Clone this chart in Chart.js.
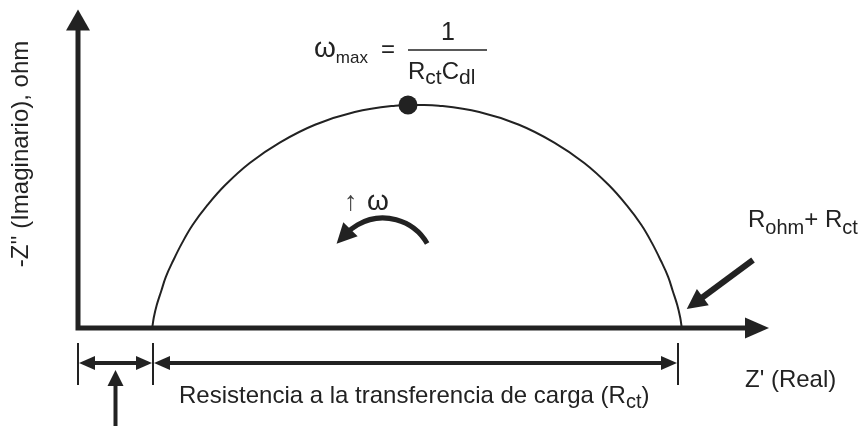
<!DOCTYPE html>
<html>
<head>
<meta charset="utf-8">
<script src="https://cdn.jsdelivr.net/npm/chart.js@4"></script>
<style>
  html, body { margin: 0; padding: 0; background: #fff; }
  #wrap { width: 866px; height: 426px; position: relative; }
</style>
</head>
<body>
<div id="wrap"><canvas id="nyquist"></canvas></div>
<script>
// Nyquist arc: Z' (real) and -Z'' (imaginary), in units of R_ohm
const arcRe = [0.99, 1.01, 1.05, 1.11, 1.17, 1.27, 1.39, 1.53, 1.72, 1.96, 2.29, 2.69, 3.16, 3.69, 4.23, 4.52,
               4.81, 5.35, 5.88, 6.35, 6.75, 7.08, 7.32, 7.51, 7.65, 7.77, 7.87, 7.93, 7.99, 8.03, 8.05];
const arcIm = [0, 0.16, 0.36, 0.58, 0.80, 1.06, 1.34, 1.62, 1.92, 2.24, 2.59, 2.91, 3.19, 3.39, 3.49, 3.50,
               3.49, 3.39, 3.19, 2.91, 2.59, 2.24, 1.92, 1.62, 1.34, 1.06, 0.80, 0.58, 0.36, 0.16, 0];

// point of maximum -Z'' (omega_max)
const peakRe = [4.40];
const peakIm = [3.50];

// dimension marks on the real axis: origin, R_ohm, R_ohm + R_ct
const dimTicks = [0, 1.0, 8.0];

const INK = '#222';
const FONT = "'Liberation Sans', Arial, sans-serif";

function arrowHead(ctx, tx, ty, ang, len, half) {
  ctx.beginPath();
  ctx.moveTo(tx, ty);
  ctx.lineTo(tx - len * Math.cos(ang) + half * Math.sin(ang), ty - len * Math.sin(ang) - half * Math.cos(ang));
  ctx.lineTo(tx - len * Math.cos(ang) - half * Math.sin(ang), ty - len * Math.sin(ang) + half * Math.cos(ang));
  ctx.closePath();
  ctx.fill();
}

// text with sub-runs: [{t, size, dy}]
function runs(ctx, x, y, parts) {
  let cx = x;
  parts.forEach(p => {
    ctx.font = p.size + 'px ' + FONT;
    ctx.fillText(p.t, cx, y + (p.dy || 0));
    cx += ctx.measureText(p.t).width;
  });
}

const decor = {
  id: 'decor',
  beforeDatasetsDraw(chart) {
    const { ctx, chartArea: a, scales: { x, y } } = chart;
    const x0 = x.getPixelForValue(0), y0 = y.getPixelForValue(0);
    ctx.save();
    ctx.strokeStyle = INK;
    ctx.fillStyle = INK;
    ctx.lineWidth = 5;
    ctx.lineCap = 'butt';
    // axes
    ctx.beginPath();
    ctx.moveTo(x0, y0 + 2.5);
    ctx.lineTo(x0, a.top + 18);
    ctx.moveTo(x0 - 2.5, y0);
    ctx.lineTo(a.right - 20, y0);
    ctx.stroke();
    arrowHead(ctx, x0, a.top, -Math.PI / 2, 21, 12);
    arrowHead(ctx, a.right + 1, y0, 0, 24, 10.5);
    ctx.restore();
  },
  afterDatasetsDraw(chart) {
    const { ctx, scales: { x, y } } = chart;
    const y0 = y.getPixelForValue(0);
    ctx.save();
    ctx.strokeStyle = INK;
    ctx.fillStyle = INK;

    // dimension lines under the real axis
    const tx = dimTicks.map(v => x.getPixelForValue(v));
    const dy = y0 + 35;
    ctx.lineWidth = 2;
    ctx.beginPath();
    tx.forEach(px => { ctx.moveTo(px, y0 + 15); ctx.lineTo(px, y0 + 57); });
    ctx.stroke();
    ctx.lineWidth = 4;
    for (let i = 0; i < tx.length - 1; i++) {
      const l = tx[i] + 1, r = tx[i + 1] - 1;
      ctx.beginPath();
      ctx.moveTo(l + 14, dy);
      ctx.lineTo(r - 14, dy);
      ctx.stroke();
      arrowHead(ctx, l, dy, Math.PI, 16, 7);
      arrowHead(ctx, r, dy, 0, 16, 7);
    }

    // pointer up to the R_ohm interval
    const ux = (tx[0] + tx[1]) / 2;
    ctx.beginPath();
    ctx.moveTo(ux, 426);
    ctx.lineTo(ux, dy + 20);
    ctx.stroke();
    arrowHead(ctx, ux, dy + 7, -Math.PI / 2, 16, 8);

    // pointer to R_ohm + R_ct
    const fx = x.getPixelForValue(8.05) + 5, fy = y0 - 19;
    const ang = Math.atan2(fy - 260, fx - 753);
    ctx.lineWidth = 6;
    ctx.beginPath();
    ctx.moveTo(753, 260);
    ctx.lineTo(fx - 16 * Math.cos(ang), fy - 16 * Math.sin(ang));
    ctx.stroke();
    arrowHead(ctx, fx, fy, ang, 20, 10);

    // curved arrow: increasing frequency
    const cx = 383, cy = 269, r = 51;
    const end = -136 * Math.PI / 180;
    ctx.lineWidth = 5;
    ctx.beginPath();
    ctx.arc(cx, cy, r, -30 * Math.PI / 180, end, true);
    ctx.stroke();
    const ex = cx + r * Math.cos(end), ey = cy + r * Math.sin(end);
    const ta = Math.atan2(-Math.cos(end), Math.sin(end));
    arrowHead(ctx, ex + 14 * Math.cos(ta), ey + 14 * Math.sin(ta), ta, 20, 10);

    // labels
    ctx.textBaseline = 'alphabetic';
    ctx.textAlign = 'left';
    ctx.fillStyle = '#444';
    runs(ctx, 344, 210, [{ t: '\u2191', size: 27 }]);
    ctx.fillStyle = INK;
    runs(ctx, 367, 210, [{ t: '\u03c9', size: 28 }]);

    runs(ctx, 314, 57, [{ t: '\u03c9', size: 28 }, { t: 'max', size: 17, dy: 6 }]);
    runs(ctx, 381, 57, [{ t: '=', size: 24 }]);
    ctx.lineWidth = 1.5;
    ctx.beginPath();
    ctx.moveTo(408, 50);
    ctx.lineTo(487, 50);
    ctx.stroke();
    ctx.textAlign = 'center';
    ctx.font = '25px ' + FONT;
    ctx.fillText('1', 448, 40);
    ctx.textAlign = 'left';
    runs(ctx, 408, 79, [
      { t: 'R', size: 24 }, { t: 'ct', size: 21, dy: 5 },
      { t: 'C', size: 24 }, { t: 'dl', size: 21, dy: 5 }
    ]);

    runs(ctx, 748, 227, [
      { t: 'R', size: 24 }, { t: 'ohm', size: 20, dy: 7 },
      { t: '+ ', size: 24 }, { t: 'R', size: 24 }, { t: 'ct', size: 20, dy: 7 }
    ]);

    runs(ctx, 745, 387, [{ t: "Z' (Real)", size: 24 }]);
    runs(ctx, 179, 403, [
      { t: 'Resistencia a la transferencia de carga (R', size: 24 },
      { t: 'ct', size: 20, dy: 5 }, { t: ')', size: 24 }
    ]);

    // vertical axis title
    ctx.translate(21, 154);
    ctx.rotate(-Math.PI / 2);
    ctx.textAlign = 'center';
    ctx.textBaseline = 'middle';
    ctx.font = '24px ' + FONT;
    ctx.fillText("-Z'' (Imaginario), ohm", 0, 0);
    ctx.restore();
  }
};

new Chart(document.getElementById('nyquist'), {
  type: 'scatter',
  data: {
    datasets: [
      {
        data: arcRe.map((v, i) => ({ x: v, y: arcIm[i] })),
        showLine: true,
        borderColor: INK,
        borderWidth: 2,
        pointRadius: 0,
        tension: 0.4,
        order: 2
      },
      {
        data: peakRe.map((v, i) => ({ x: v, y: peakIm[i] })),
        pointRadius: 9.5,
        pointBackgroundColor: INK,
        pointBorderWidth: 0,
        order: 1
      }
    ]
  },
  options: {
    responsive: true,
    maintainAspectRatio: false,
    animation: false,
    layout: { padding: { left: 78, right: 98, top: 8, bottom: 98 } },
    plugins: { legend: { display: false }, tooltip: { enabled: false } },
    scales: {
      x: { type: 'linear', display: false, min: 0, max: 9.2 },
      y: { type: 'linear', display: false, min: 0, max: 5 }
    }
  },
  plugins: [decor]
});
</script>
</body>
</html>
